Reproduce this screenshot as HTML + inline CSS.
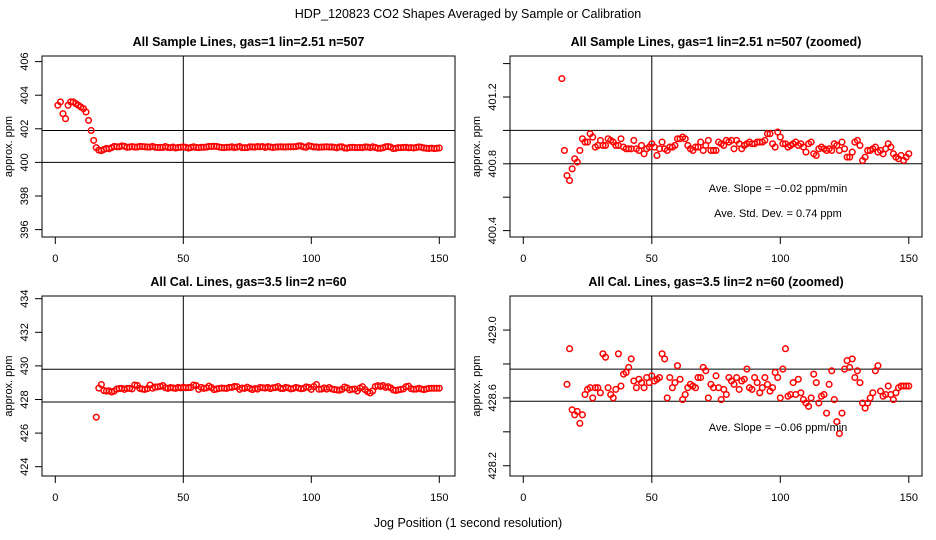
<!DOCTYPE html>
<html><head><meta charset="utf-8"><style>
html,body{margin:0;padding:0;background:#fff;width:936px;height:540px;overflow:hidden;position:relative;}
svg{display:block;position:absolute;left:0;top:0;font-family:"Liberation Sans",Helvetica,Arial,sans-serif;}
</style></head><body>
<svg id="chart" width="936" height="540" viewBox="0 0 936 540" overflow="hidden" xmlns="http://www.w3.org/2000/svg">
<rect x="0" y="0" width="936" height="540" fill="#fff"/>
<text x="468" y="18" text-anchor="middle" font-size="12.5">HDP_120823  CO2 Shapes Averaged by Sample or Calibration</text>
<text x="468" y="527" text-anchor="middle" font-size="12.5">Jog Position (1 second resolution)</text>
</svg>
<script>
// ---- data ----
const sampleStart = 1;
const sampleValues = [403.4,403.6,402.9,402.6,403.4,403.6,403.6,403.5,403.4,403.3,403.2,403.0,402.5,401.9,
401.31,400.88,400.73,400.70,400.77,400.83,400.81,400.88,400.95,400.93,400.93,400.98,400.96,400.90,400.91,400.94,
400.91,400.91,400.95,400.94,400.93,400.91,400.91,400.95,400.90,400.89,400.89,400.89,400.94,400.89,400.88,400.91,
400.86,400.89,400.90,400.92,400.90,400.85,400.89,400.93,400.89,400.88,400.90,400.90,400.91,400.95,400.95,400.96,
400.95,400.91,400.89,400.88,400.90,400.90,400.93,400.88,400.91,400.94,400.88,400.88,
400.88,400.93,400.92,400.91,400.94,400.93,400.94,400.89,400.94,400.92,400.89,400.91,400.92,400.93,400.92,400.92,
400.93,400.93,400.93,400.94,400.98,400.98,400.92,400.90,400.99,400.96,400.92,400.92,400.90,400.91,400.92,400.93,
400.91,400.92,400.90,400.87,400.92,400.93,400.86,400.85,400.89,400.90,400.89,400.88,400.89,400.88,400.92,400.91,
400.88,400.93,400.89,400.84,400.84,400.87,400.93,400.94,400.91,400.82,400.84,400.88,
400.88,400.89,400.90,400.87,400.88,400.86,400.89,400.92,400.90,400.86,400.84,400.83,400.85,400.82,400.84,400.86];
const calStart = 16;
const calValues = [426.95,
428.68,428.89,428.53,428.50,428.52,428.45,428.50,428.62,428.65,428.66,428.60,428.66,428.66,428.63,428.86,428.84,
428.66,428.62,428.60,428.65,428.86,428.67,428.74,428.75,428.78,428.83,428.70,428.66,428.71,428.69,428.66,428.72,
428.69,428.73,428.70,428.71,428.72,428.86,428.83,428.60,428.72,428.66,428.69,428.79,428.71,428.59,428.62,428.66,
428.68,428.67,428.66,428.72,428.72,428.78,428.76,
428.60,428.68,428.66,428.73,428.66,428.59,428.65,428.62,428.72,428.70,428.68,428.72,428.65,428.70,428.71,428.77,
428.66,428.65,428.72,428.69,428.63,428.66,428.72,428.68,428.64,428.66,428.75,428.72,428.60,428.77,428.89,428.61,
428.62,428.69,428.62,428.71,428.63,428.59,428.57,428.55,428.60,428.74,428.69,428.57,428.61,428.62,428.51,428.68,
428.76,428.59,428.46,428.39,428.51,428.77,428.82,428.78,428.83,428.72,428.76,428.69,428.57,428.54,428.57,428.60,
428.63,428.76,428.79,428.64,428.61,428.62,428.67,428.62,428.59,428.63,428.66,428.67,428.67,428.67,428.67];
const xTicks = [0,50,100,150];
const yTicksP1 = ["396","398","400","402","404","406"];
const yTicksP2 = ["400.4","400.6","400.8","401.0","401.2","401.4"];
const yTicksP3 = ["424","426","428","430","432","434"];
const yTicksP4 = ["428.2","428.4","428.6","428.8","429.0"];
const hLinesP1 = [401.9, 400.0];
const hLinesP2 = [401.0, 400.8];
const hLinesP3 = [429.8, 427.85];
const hLinesP4 = [428.77, 428.58];
const labeledP2 = ["400.4","400.8","401.2"];
const labeledP4 = ["428.2","428.6","429.0"];

const svg = document.getElementById('chart');
const NS = 'http://www.w3.org/2000/svg';
function mk(tag, attrs, parent){ const e=document.createElementNS(NS,tag); for(const k in attrs) e.setAttribute(k,attrs[k]); (parent||svg).appendChild(e); return e; }

function panel(cfg){
  const g = mk('g',{});
  
  
  const xs = v => cfg.x0 + (v)*cfg.xk;
  const ys = v => cfg.yRef - (v - cfg.vRef)*cfg.yk;
  const clipId = cfg.name+'-clip';
  const cp = mk('clipPath',{id:clipId},g); mk('rect',{x:cfg.L,y:cfg.T,width:cfg.R-cfg.L,height:cfg.B-cfg.T},cp);
  const t = mk('text',{x:(cfg.L+cfg.R)/2,y:cfg.T-10,'text-anchor':'middle','font-size':'12.5','font-weight':'bold'},g);
  t.textContent = cfg.title;
  
  
  const box = mk('rect',{x:cfg.L,y:cfg.T,width:cfg.R-cfg.L,height:cfg.B-cfg.T,fill:'none',stroke:'#000','stroke-width':1},g);
  
  
  const vl = mk('line',{x1:xs(50),x2:xs(50),y1:cfg.T,y2:cfg.B,stroke:'#000'},g);
  
  
  cfg.hl.forEach(h=>{
    const l = mk('line',{x1:cfg.L,x2:cfg.R,y1:ys(h),y2:ys(h),stroke:'#000'},g);
    
    
  });
  xTicks.forEach(v=>{
    mk('line',{x1:xs(v),x2:xs(v),y1:cfg.B,y2:cfg.B+7,stroke:'#000'},g);
    const tx = mk('text',{x:xs(v),y:cfg.B+25,'text-anchor':'middle','font-size':'11'},g);
    tx.textContent = v;
    
    
  });
  cfg.yt.forEach(s=>{
    const v = parseFloat(s), y = ys(v);
    mk('line',{x1:cfg.L-7,x2:cfg.L,y1:y,y2:y,stroke:'#000'},g);
    if(!cfg.lab || cfg.lab.includes(s)){
      const tx = mk('text',{x:cfg.L-14,y:y,'text-anchor':'middle','font-size':'11',transform:`rotate(-90 ${cfg.L-14} ${y})`},g);
      tx.textContent = s;
      
      
    }
  });
  const yl = mk('text',{x:cfg.L-30,y:(cfg.T+cfg.B)/2,'text-anchor':'middle','font-size':'11',transform:`rotate(-90 ${cfg.L-30} ${(cfg.T+cfg.B)/2})`},g);
  yl.textContent = 'approx. ppm';
  
  
  const pg = mk('g',{'clip-path':`url(#${clipId})`},g);
  cfg.vals.forEach((v,i)=>{
    const c = mk('circle',{cx:xs(cfg.start+i),cy:ys(v),r:2.8,fill:'none',stroke:'#f00','stroke-width':1.5},pg);
    
    
  });
  (cfg.notes||[]).forEach(n=>{
    const tx = mk('text',{x:n[0],y:n[1],'text-anchor':'middle','font-size':'11'},g);
    tx.textContent = n[2];
    
    
  });
}

panel({name:'panel-sample-all',title:'All Sample Lines, gas=1 lin=2.51 n=507',L:42,R:455,T:56,B:237,
  x0:55.3,xk:2.56,vRef:400,yRef:162.4,yk:16.8,yt:yTicksP1,hl:hLinesP1,vals:sampleValues,start:sampleStart});
panel({name:'panel-sample-zoomed',title:'All Sample Lines, gas=1 lin=2.51 n=507 (zoomed)',L:510,R:922,T:56,B:237,
  x0:523.3,xk:2.57,vRef:400.8,yRef:163.8,yk:167,yt:yTicksP2,lab:labeledP2,hl:hLinesP2,vals:sampleValues,start:sampleStart,
  notes:[[778,192,'Ave. Slope =  \u22120.02  ppm/min'],[778,217,'Ave. Std. Dev. =  0.74  ppm']]});
panel({name:'panel-cal-all',title:'All Cal. Lines, gas=3.5 lin=2 n=60',L:42,R:455,T:296,B:476,
  x0:55.3,xk:2.56,vRef:428,yRef:399.5,yk:16.8,yt:yTicksP3,hl:hLinesP3,vals:calValues,start:calStart});
panel({name:'panel-cal-zoomed',title:'All Cal. Lines, gas=3.5 lin=2 n=60 (zoomed)',L:510,R:922,T:296,B:476,
  x0:523.3,xk:2.57,vRef:428.6,yRef:397.9,yk:169.6,yt:yTicksP4,lab:labeledP4,hl:hLinesP4,vals:calValues,start:calStart,
  notes:[[778,431,'Ave. Slope =  \u22120.06  ppm/min']]});
</script>
</body></html>
